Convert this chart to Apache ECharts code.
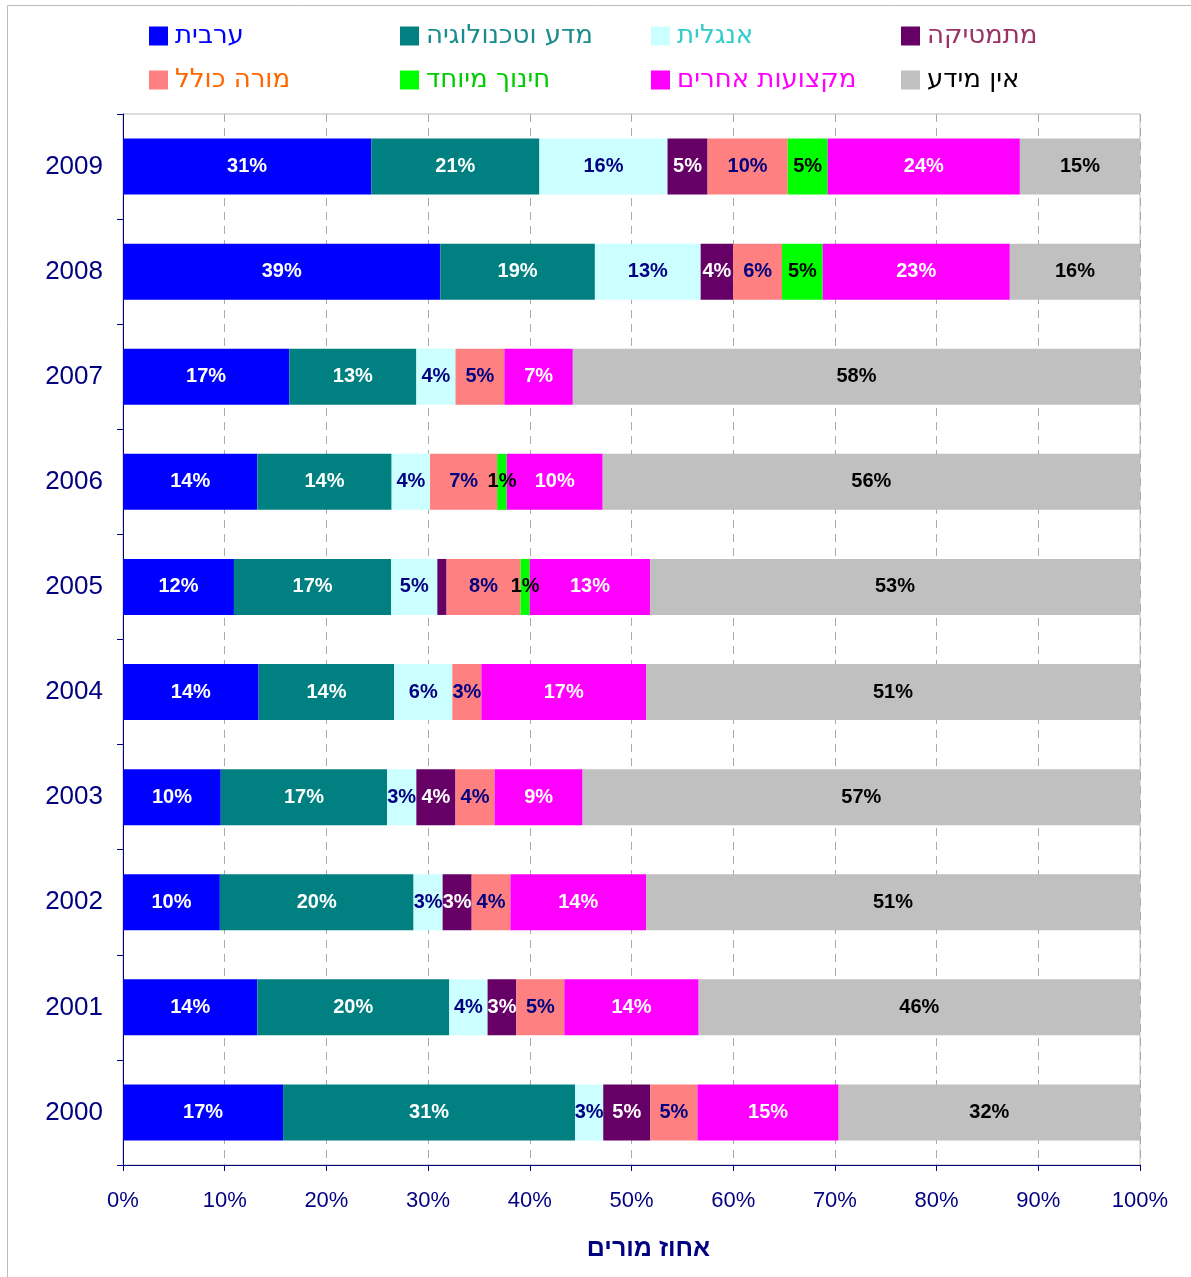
<!DOCTYPE html>
<html>
<head>
<meta charset="utf-8">
<script src="https://cdn.jsdelivr.net/npm/echarts@6/dist/echarts.min.js"></script>
<style>
  html, body { margin: 0; padding: 0; background: #fff; }
  #chart { width: 1191px; height: 1277px; }
</style>
</head>
<body>
<div id="chart"></div>
<script>
// years, bottom to top
var years = ['2000', '2001', '2002', '2003', '2004', '2005', '2006', '2007', '2008', '2009'];
var seriesNames = ['ערבית', 'מדע וטכנולוגיה', 'אנגלית', 'מתמטיקה', 'מורה כולל', 'חינוך מיוחד', 'מקצועות אחרים', 'אין מידע'];

// raw percentages as printed on the bars (2000 .. 2009)
var arabic   = [17, 14, 10, 10, 14, 12, 14, 17, 39, 31];
var science  = [31, 20, 20, 17, 14, 17, 14, 13, 19, 21];
var english  = [3, 4, 3, 3, 6, 5, 4, 4, 13, 16];
var math     = [5, 3, 3, 4, 0, 1, 0, 0, 4, 5];
var general  = [5, 5, 4, 4, 3, 8, 7, 5, 6, 10];
var special  = [0, 0, 0, 0, 0, 1, 1, 0, 5, 5];
var other    = [15, 14, 14, 9, 17, 13, 10, 7, 23, 24];
var noInfo   = [32, 46, 51, 57, 51, 53, 56, 58, 16, 15];

var rawSeries = [arabic, science, english, math, general, special, other, noInfo];
var barColors = ['#0000FF', '#008080', '#CCFFFF', '#660066', '#FF8080', '#00FF00', '#FF00FF', '#C0C0C0'];
var legendTextColors = ['#0000FF', '#1A8C8C', '#33CCCC', '#993366', '#FF6600', '#00CC00', '#FF00FF', '#000000'];
var labelColors = ['#FFFFFF', '#FFFFFF', '#000080', '#FFFFFF', '#000080', '#000000', '#FFFFFF', '#000000'];
// 2005 math sliver had no label in the original
var hiddenLabels = { '3-5': true };

// 100% stacked: share of each year's total
var totals = years.map(function (y, i) {
    var s = 0;
    rawSeries.forEach(function (arr) { s += arr[i]; });
    return s;
});

var navy = '#000080';
var font = '"Liberation Sans", Arial, sans-serif';

var series = rawSeries.map(function (arr, k) {
    return {
        name: seriesNames[k],
        type: 'bar',
        stack: 'all',
        barWidth: 56,
        itemStyle: { color: barColors[k] },
        label: {
            show: true,
            position: 'inside',
            color: labelColors[k],
            fontFamily: font,
            fontWeight: 'bold',
            fontSize: 20,
            formatter: function (p) {
                var raw = arr[p.dataIndex];
                if (!raw || hiddenLabels[k + '-' + p.dataIndex]) return '';
                return raw + '%';
            }
        },
        labelLayout: { hideOverlap: false },
        data: arr.map(function (v, i) { return v / totals[i] * 100; })
    };
});

// legend: one component per entry, on a 4 x 2 grid
var legendCols = [149, 400, 651, 901];
var legendRows = [23, 67];
var legends = seriesNames.map(function (name, k) {
    return {
        data: [name],
        left: legendCols[k % 4],
        top: legendRows[Math.floor(k / 4)],
        padding: 0,
        itemWidth: 19,
        itemHeight: 19,
        itemGap: 0,
        icon: 'rect',
        selectedMode: false,
        textStyle: { color: legendTextColors[k], fontSize: 26, fontFamily: '"DejaVu Sans", sans-serif', padding: [0, 0, 0, 2] }
    };
});

var myChart = echarts.init(document.getElementById('chart'));
var option = {
    animation: false,
    backgroundColor: '#fff',
    legend: legends,
    graphic: [{
        type: 'rect',
        shape: { x: 7.5, y: 5.5, width: 1200, height: 1300 },
        style: { fill: 'none', stroke: '#BBBBBB', lineWidth: 1 },
        silent: true
    }],
    grid: {
        left: 123,
        right: 51,
        top: 114,
        bottom: 112,
        show: true,
        borderColor: '#BBBBBB',
        borderWidth: 1
    },
    xAxis: {
        type: 'value',
        min: 0,
        max: 100,
        interval: 10,
        name: 'אחוז מורים',
        nameLocation: 'middle',
        nameGap: 72,
        nameTextStyle: { color: navy, fontSize: 25, fontWeight: 'bold', fontFamily: font, padding: [0, 0, 0, 34] },
        axisLine: { show: true, lineStyle: { color: navy, width: 1 } },
        axisTick: { show: true, length: 6, lineStyle: { color: navy } },
        axisLabel: { color: navy, fontSize: 22, fontFamily: font, margin: 25, formatter: '{value}%' },
        splitLine: { show: true, lineStyle: { color: '#AAAAAA', type: [8, 6], width: 1 } }
    },
    yAxis: {
        type: 'category',
        data: years,
        axisLine: { show: true, lineStyle: { color: navy, width: 1 } },
        axisTick: { show: true, length: 6, inside: false, lineStyle: { color: navy } },
        axisLabel: { color: navy, fontSize: 26, fontFamily: font, margin: 20 },
        splitLine: { show: false }
    },
    series: series
};
myChart.setOption(option);
</script>
</body>
</html>
